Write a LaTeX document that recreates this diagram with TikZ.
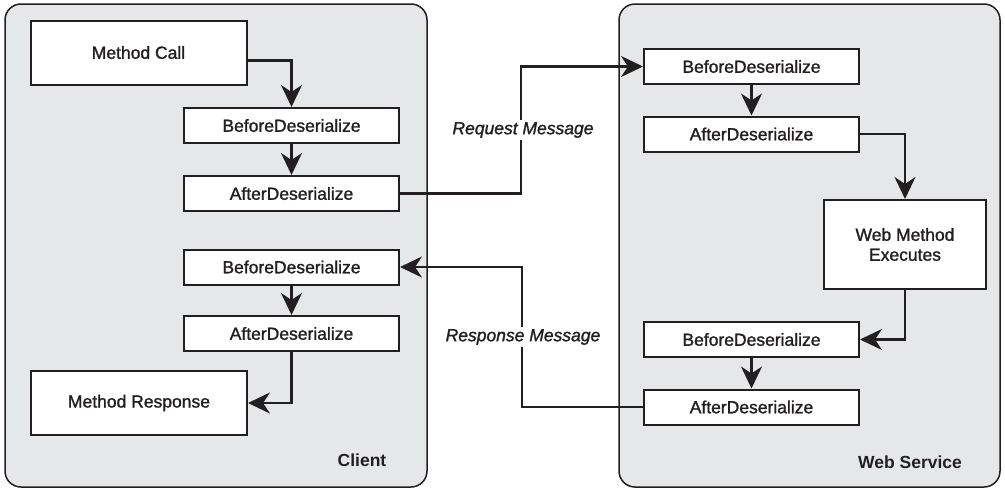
\documentclass[tikz,border=0pt]{standalone}
\usepackage{fontspec}
\setmainfont{Liberation Sans}
\newfontfamily\medfont[FakeBold=1.3]{Liberation Sans}
\usetikzlibrary{arrows.meta}
\definecolor{ink}{HTML}{231F20}
\definecolor{panel}{HTML}{E6E7E8}
\tikzset{
  panelbox/.style={draw=ink, fill=panel, line width=1.5pt, rounded corners=16pt},
  stepbox/.style={draw=ink, fill=white, line width=2pt, inner sep=0pt, text=ink,
    font=\medfont\fontsize{17.5}{20}\selectfont, align=center},
  thin/.style={stepbox, minimum width=215pt, minimum height=35pt},
  big/.style={stepbox, minimum width=216pt, minimum height=64pt},
  flow/.style={draw=ink, line width=2.4pt, -{Stealth[length=22pt,width=21pt,inset=7pt]}},
  msg/.style={fill=white, inner sep=2pt, text=ink, font=\medfont\fontsize{17.5}{20}\selectfont\itshape},
  title/.style={text=ink, font=\fontsize{17.5}{20}\selectfont\bfseries}
}
\begin{document}
\begin{tikzpicture}[x=1pt,y=-1pt]
\useasboundingbox (0,0) rectangle (1005,488);
% panels
\draw[panelbox] (5,4) rectangle (427,487);
\draw[panelbox] (619,4) rectangle (1000,487);
\node[title] (client) at (362,460) {Client};
\node[title] (ws) at (910,462) {Web Service};
% client nodes
\node[big]  (mc)  at (138.5,52.5) {Method Call};
\node[thin] (cb1) at (291.5,125.5) {BeforeDeserialize};
\node[thin] (ca1) at (291.5,193.5) {AfterDeserialize};
\node[thin] (cb2) at (291.5,267) {BeforeDeserialize};
\node[thin] (ca2) at (291.5,333.5) {AfterDeserialize};
\node[big]  (mr)  at (139,403) {Method Response};
% web service nodes
\node[thin] (wb1) at (751.5,66.5) {BeforeDeserialize};
\node[thin] (wa1) at (751.5,134) {AfterDeserialize};
\node[stepbox, minimum width=162pt, minimum height=89pt] (wm) at (905,244.5) {Web Method\\Executes};
\node[thin] (wb2) at (751.5,339.5) {BeforeDeserialize};
\node[thin] (wa2) at (751.5,407) {AfterDeserialize};
% client flow
\draw[flow] ([yshift=-8pt]mc.east) -| (cb1.north);
\draw[flow] (cb1.south) -- (ca1.north);
\draw[flow] (cb2.south) -- (ca2.north);
\draw[flow] (ca2.south) |- (mr.east);
% web service flow
\draw[flow] (wb1.south) -- (wa1.north);
\draw[flow] (wa1.east) -| (wm.north);
\draw[flow] (wm.south) |- (wb2.east);
\draw[flow] (wb2.south) -- (wa2.north);
% messages
\coordinate (rq1) at (521,193.5);
\coordinate (rq2) at (521,66.5);
\draw[flow] (ca1.east) -- (rq1) -- (rq2) -- (wb1.west);
\node[msg] (reqlbl) at (523,130) {Request Message};
\coordinate (rs1) at (522,407);
\coordinate (rs2) at (522,267);
\draw[flow] (wa2.west) -- (rs1) -- (rs2) -- (cb2.east);
\node[msg] (reslbl) at (523,337) {Response Message};
\end{tikzpicture}
\end{document}
